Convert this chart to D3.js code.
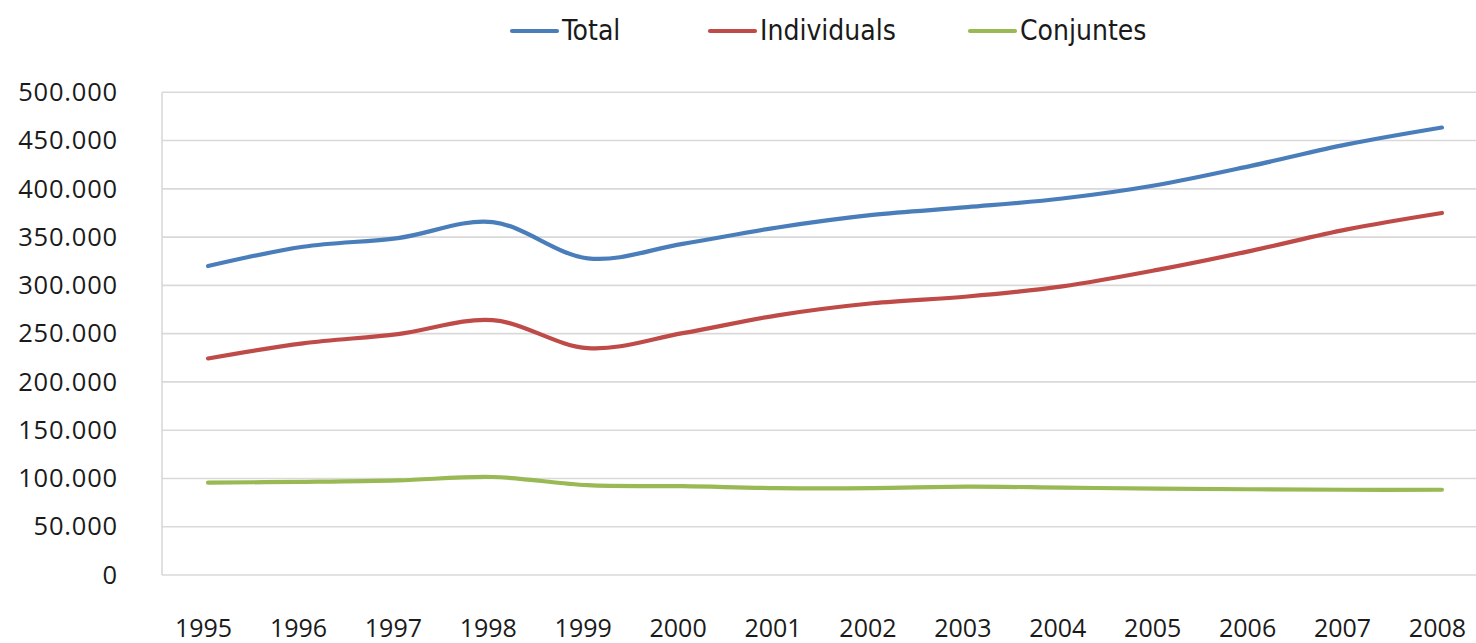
<!DOCTYPE html>
<html>
<head>
<meta charset="utf-8">
<script src="https://cdn.jsdelivr.net/npm/d3@7"></script>
<style>
  html, body { margin: 0; padding: 0; background: #fff; }
  svg { display: block; }
</style>
</head>
<body>
<svg id="chart" width="1476" height="643"></svg>
<script>
const years = ["1995","1996","1997","1998","1999","2000","2001","2002","2003","2004","2005","2006","2007","2008"];
const total = [320000, 340000, 349000, 365500, 328000, 343000, 360000, 373000, 381000, 390000, 404000, 424000, 446000, 463500];
const individuals = [224300, 240000, 249500, 264000, 235000, 250500, 269000, 281500, 288500, 299000, 316000, 336000, 358000, 375000];
const conjuntes = [95700, 96500, 98000, 101500, 93000, 92000, 90000, 90000, 91500, 90500, 89500, 88800, 88300, 88300];
const yTicks = [0, 50000, 100000, 150000, 200000, 250000, 300000, 350000, 400000, 450000, 500000];
const seriesNames = ["Total", "Individuals", "Conjuntes"];
const seriesColors = ["#4A7EBB", "#BE4B48", "#98B954"];

(function () {
const series = [total, individuals, conjuntes].map((v, i) => ({ name: seriesNames[i], color: seriesColors[i], values: v }));

const svg = d3.select("#chart");
const plotLeft = 162, plotTop = 92.3, plotBottom = 575;

const x = d3.scaleBand().domain(years).range([160.6, 1489.4]).padding(0);
const y = d3.scaleLinear().domain([0, 500000]).range([plotBottom, plotTop]);

const fmt = v => d3.format(",")(v).replace(/,/g, ".");

// gridlines
svg.append("g")
  .selectAll("line")
  .data(yTicks)
  .join("line")
  .attr("x1", plotLeft).attr("x2", 1476)
  .attr("y1", d => y(d)).attr("y2", d => y(d))
  .attr("stroke", "#d9d9d9").attr("stroke-width", 1.6);

// left axis line
svg.append("line")
  .attr("x1", plotLeft).attr("x2", plotLeft)
  .attr("y1", y(500000)).attr("y2", y(0))
  .attr("stroke", "#d9d9d9").attr("stroke-width", 1.6);

// y axis labels
const yAxis = d3.axisLeft(y).tickValues(yTicks).tickFormat(fmt).tickSize(0).tickPadding(0);
const yg = svg.append("g").attr("transform", "translate(118,0)").call(yAxis);
yg.select(".domain").remove();
yg.selectAll("text")
  .attr("font-family", "'Open Sans', sans-serif")
  .attr("font-size", 25.5)
  .attr("letter-spacing", 0.8)
  .attr("fill", "#1a1a1a");

// x axis labels
const xAxis = d3.axisBottom(x).tickSize(0).tickPadding(0);
const xg = svg.append("g").attr("transform", `translate(0,${plotBottom})`).call(xAxis);
xg.select(".domain").remove();
xg.selectAll("text")
  .attr("font-family", "'Open Sans', sans-serif")
  .attr("font-size", 25)
  .attr("fill", "#1a1a1a")
  .attr("dy", null)
  .attr("y", 62)
  .attr("dx", -4.5);

// lines
const line = d3.line()
  .x((d, i) => x(years[i]) + x.bandwidth() / 2)
  .y(d => y(d))
  .curve(d3.curveCardinal.tension(0));

svg.append("g")
  .selectAll("path")
  .data(series)
  .join("path")
  .attr("d", d => line(d.values))
  .attr("fill", "none")
  .attr("stroke", d => d.color)
  .attr("stroke-width", 4.2)
  .attr("stroke-linecap", "round")
  .attr("stroke-linejoin", "round");

// legend
const legendX = [512, 710, 970];
const lg = svg.append("g")
  .selectAll("g")
  .data(series)
  .join("g")
  .attr("transform", (d, i) => `translate(${legendX[i]},31)`);
lg.append("line")
  .attr("x1", 0).attr("x2", 45)
  .attr("y1", 0).attr("y2", 0)
  .attr("stroke", d => d.color)
  .attr("stroke-width", 4.2)
  .attr("stroke-linecap", "round");
lg.append("text")
  .attr("x", 50)
  .attr("y", 9)
  .attr("font-family", "'DejaVu Sans Condensed', 'DejaVu Sans', sans-serif")
  .attr("font-stretch", "condensed")
  .attr("font-size", 28)
  .attr("fill", "#1a1a1a")
  .text(d => d.name);
})();
</script>
</body>
</html>
